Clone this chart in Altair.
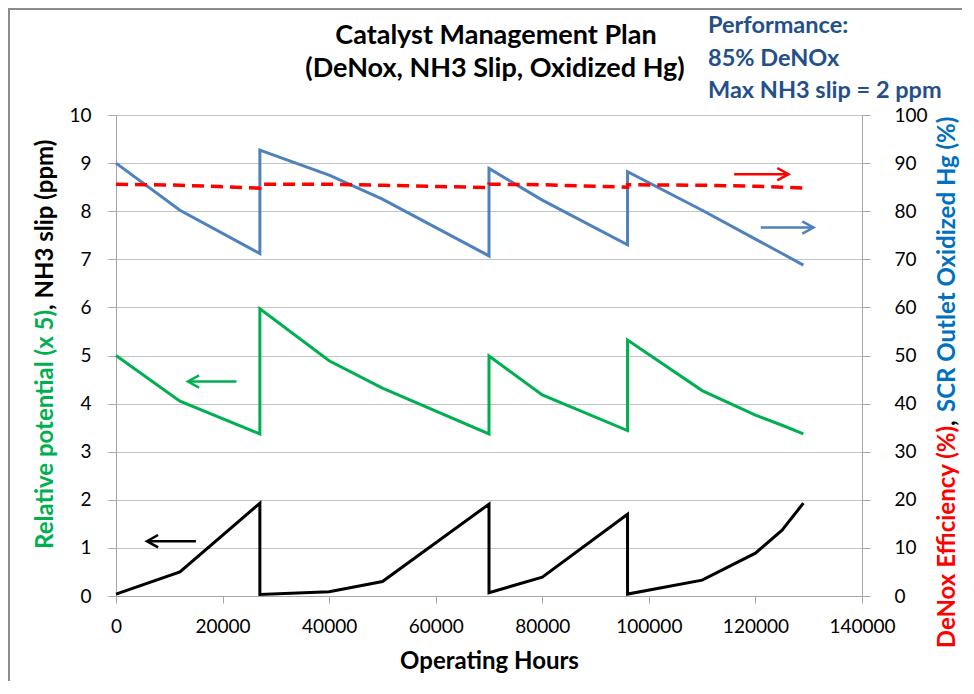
import altair as alt
import pandas as pd

# ---------------- data ----------------
hours = [0, 12000, 27000, 27000, 40000, 50000, 70000, 70000, 80000, 96000, 96000,
         110000, 120000, 125000, 129000]
nh3_slip = [0.04, 0.50, 1.93, 0.03, 0.09, 0.30, 1.91, 0.07, 0.39, 1.70, 0.04,
            0.33, 0.89, 1.37, 1.93]
rel_potential = [5.00, 4.05, 3.37, 5.97, 4.89, 4.32, 3.37, 4.99, 4.18, 3.44, 5.32,
                 4.27, 3.76, 3.55, 3.37]
oxidized_hg = [90.0, 80.2, 71.2, 92.7, 87.5, 82.5, 70.7, 88.9, 82.3, 73.0, 88.2,
               80.2, 74.2, 71.2, 68.8]
denox_eff = [85.6, 85.4, 84.8, 85.6, 85.6, 85.4, 84.9, 85.6, 85.5, 85.0, 85.5,
             85.4, 85.2, 85.0, 84.8]

title_lines = ["Catalyst Management Plan", "(DeNox, NH3 Slip, Oxidized Hg)"]
perf_lines = ["Performance:", "85% DeNOx", "Max NH3 slip = 2 ppm"]
left_title = ["Relative potential (x 5)", ", NH3 slip (ppm)"]
right_title = ["DeNox Efficiency (%)", ", ", "SCR Outlet Oxidized Hg (%)"]
x_title = "Operating Hours"

# arrows (in left-axis units): x start, x end, y, direction, colour
arrow_x = [116000, 121000, 13500, 5800]
arrow_x2 = [126200, 130900, 22600, 15000]
arrow_y = [8.77, 7.66, 4.46, 1.14]
arrow_dir = ["right", "right", "left", "left"]
arrow_color = ["#FF0000", "#4F81BD", "#00B050", "#000000"]

FONT = "Lato"
W, H = 746, 481

idx = list(range(len(hours)))
df_left = pd.DataFrame({"hours": hours, "nh3": nh3_slip, "pot": rel_potential, "i": idx})
df_right = pd.DataFrame({"hours": hours, "hg": oxidized_hg, "eff": denox_eff, "i": idx})
df_arrow = pd.DataFrame({"hours": arrow_x, "x2": arrow_x2, "y": arrow_y,
                         "dir": arrow_dir, "c": arrow_color})
df_arrow["hx"] = [b if d == "right" else a for a, b, d in zip(arrow_x, arrow_x2, arrow_dir)]

xscale = alt.Scale(domain=[0, 140000], nice=False)
xaxis = alt.Axis(values=list(range(0, 140001, 20000)), grid=False, labelFlush=False,
                 labelOverlap=False, tickSize=7, tickColor="#A6A6A6", domainColor="#A6A6A6",
                 labelFont=FONT, labelFontSize=19, labelColor="#000000", labelPadding=14,
                 title=x_title, titleFont=FONT, titleFontSize=24, titleFontWeight="bold",
                 titleColor="#000000", titlePadding=13, format="d")
lscale = alt.Scale(domain=[0, 10], nice=False)
laxis = alt.Axis(values=list(range(0, 11)), grid=True, gridColor="#C4C4C4", gridWidth=1.2,
                 domainColor="#A6A6A6", tickColor="#A6A6A6", tickSize=8,
                 labelFont=FONT, labelFontSize=19, labelColor="#000000", labelPadding=17,
                 title=None)
rscale = alt.Scale(domain=[0, 100], nice=False)
raxis = alt.Axis(values=list(range(0, 101, 10)), grid=False, orient="right",
                 domainColor="#A6A6A6", tickColor="#A6A6A6", tickSize=8,
                 labelFont=FONT, labelFontSize=19, labelColor="#000000", labelPadding=24,
                 title=None)

X = alt.X("hours:Q", scale=xscale, axis=xaxis, title=x_title)
order = alt.Order("i:Q")


def LY(field):
    return alt.Y(field, scale=lscale, axis=laxis, title=None)


def RY(field):
    return alt.Y(field, scale=rscale, axis=raxis, title=None)


black = alt.Chart(df_left).mark_line(color="#000000", strokeWidth=3).encode(
    x=X, y=LY("nh3:Q"), order=order)
green = alt.Chart(df_left).mark_line(color="#00B050", strokeWidth=3).encode(
    x=X, y=LY("pot:Q"), order=order)

arrow_shaft = alt.Chart(df_arrow).mark_rule(strokeWidth=2.5).encode(
    x=X, x2="x2:Q", y=LY("y:Q"), color=alt.Color("c:N", scale=None))
arrow_head = alt.Chart(df_arrow).mark_point(filled=False, strokeWidth=2.5, size=500, opacity=1).encode(
    x=alt.X("hx:Q", scale=xscale, axis=xaxis, title=x_title),
    y=LY("y:Q"),
    color=alt.Color("c:N", scale=None),
    shape=alt.Shape("dir:N", scale=alt.Scale(domain=["right", "left"],
                                             range=["M-1,-0.55L0,0L-1,0.55", "M1,-0.55L0,0L1,0.55"]),
                    legend=None))


def txt(s, x, y, size, color, align="left", angle=0, baseline="alphabetic", weight="bold"):
    return alt.Chart(pd.DataFrame({"t": [s]})).mark_text(
        font=FONT, fontSize=size, fontWeight=weight, color=color, align=align,
        baseline=baseline, angle=angle).encode(text="t:N", x=alt.value(x), y=alt.value(y))


texts = [
    txt(title_lines[0], 380, -71, 27, "#000000", align="center"),
    txt(title_lines[1], 379, -38, 27, "#000000", align="center"),
    txt(perf_lines[0], 592, -82, 23.5, "#24508A"),
    txt(perf_lines[1], 592, -49, 23.5, "#24508A"),
    txt(perf_lines[2], 592, -17, 23.5, "#24508A"),
    txt(left_title[0], -63, 195, 24, "#00B050", align="right", angle=270),
    txt(left_title[1], -63, 195, 24, "#000000", align="left", angle=270),
    txt(right_title[0], 839, 311, 24, "#FF0000", align="right", angle=270),
    txt(right_title[1], 839, 311, 24, "#000000", align="left", angle=270),
    txt(right_title[2], 839, 297, 24, "#0070C0", align="left", angle=270),
]

border_df = pd.DataFrame({"k": [0]})
border_left = alt.Chart(border_df).mark_rule(color="#8C8C8C", strokeWidth=2).encode(
    x=alt.value(-107), y=alt.value(-107), y2=alt.value(600))
border_top = alt.Chart(border_df).mark_rule(color="#8C8C8C", strokeWidth=2).encode(
    x=alt.value(-107), x2=alt.value(860), y=alt.value(-106))

left_layer = alt.layer(black, green, arrow_shaft, arrow_head, border_left, border_top, *texts)

blue = alt.Chart(df_right).mark_line(color="#4F81BD", strokeWidth=3).encode(
    x=X, y=RY("hg:Q"), order=order)
red = alt.Chart(df_right).mark_line(color="#FF0000", strokeWidth=3.5, strokeDash=[12, 7]).encode(
    x=X, y=RY("eff:Q"), order=order)
right_layer = alt.layer(blue, red)

chart = alt.layer(left_layer, right_layer).resolve_scale(y="independent").properties(
    width=W, height=H,
    autosize=alt.AutoSizeParams(type="none"),
    padding={"left": 108, "top": 107, "right": 100, "bottom": 85},
).configure_view(strokeWidth=0).configure(background="#FFFFFF")

chart.save("out.html", embed_options={"renderer": "svg", "actions": False})
